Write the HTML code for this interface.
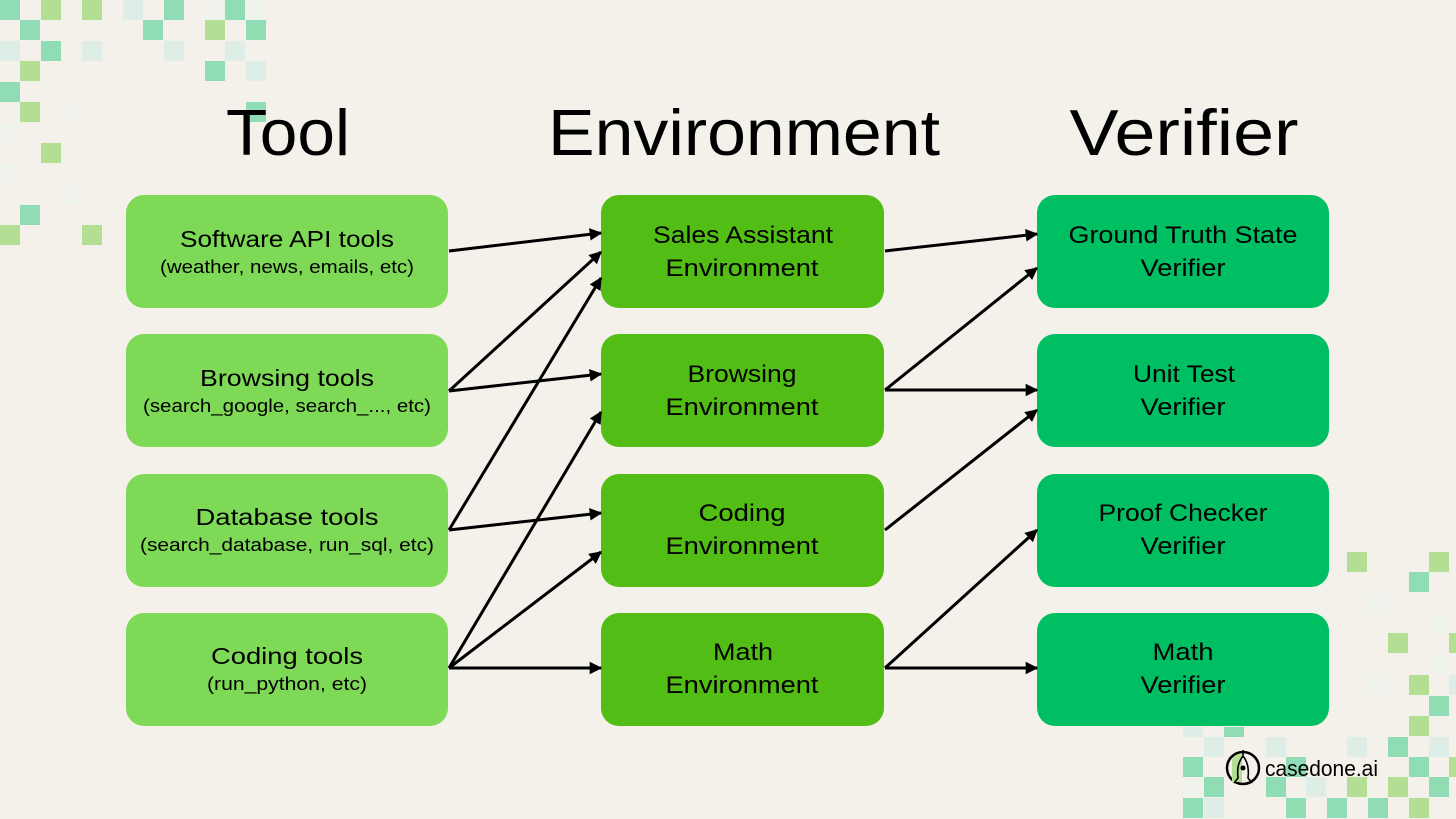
<!DOCTYPE html>
<html><head><meta charset="utf-8"><style>
html,body{margin:0;padding:0;background:#f4f1ea;}
svg{display:block;}
text{font-family:"Liberation Sans",sans-serif;fill:#000;}
</style></head><body>
<svg width="1456" height="819" viewBox="0 0 1456 819" xmlns="http://www.w3.org/2000/svg">
<defs>
<marker id="ah" viewBox="0 0 10 10" refX="9" refY="5" markerWidth="4.2" markerHeight="4.2" orient="auto" markerUnits="strokeWidth"><path d="M0,0 L10,5 L0,10 z" fill="#000"/></marker>
</defs>
<rect width="1456" height="819" fill="#f4f1ea"/>
<g>
<g fill="#8fdcb5">
<rect x="0" y="0" width="20" height="20"/><rect x="164" y="0" width="20" height="20"/><rect x="225" y="0" width="20" height="20"/>
<rect x="20" y="20" width="20" height="20"/><rect x="143" y="20" width="20" height="20"/><rect x="246" y="20" width="20" height="20"/>
<rect x="41" y="41" width="20" height="20"/><rect x="205" y="61" width="20" height="20"/>
<rect x="0" y="82" width="20" height="20"/><rect x="246" y="102" width="20" height="20"/><rect x="20" y="205" width="20" height="20"/>
</g>
<g fill="#b3df95">
<rect x="41" y="0" width="20" height="20"/><rect x="82" y="0" width="20" height="20"/><rect x="205" y="20" width="20" height="20"/>
<rect x="20" y="61" width="20" height="20"/><rect x="20" y="102" width="20" height="20"/><rect x="41" y="143" width="20" height="20"/>
<rect x="0" y="225" width="20" height="20"/><rect x="82" y="225" width="20" height="20"/>
</g>
<g fill="#deeee6">
<rect x="123" y="0" width="20" height="20"/><rect x="0" y="41" width="20" height="20"/><rect x="82" y="41" width="20" height="20"/>
<rect x="164" y="41" width="20" height="20"/><rect x="225" y="41" width="20" height="20"/><rect x="246" y="61" width="20" height="20"/>
</g>
<g fill="#eff3ec">
<rect x="205" y="0" width="20" height="20"/><rect x="246" y="0" width="20" height="20"/><rect x="61" y="102" width="20" height="20"/>
<rect x="0" y="123" width="20" height="20"/><rect x="0" y="164" width="20" height="20"/><rect x="61" y="184" width="20" height="20"/>
</g>
<g fill="#b3df95">
<rect x="1347" y="552" width="20" height="20"/><rect x="1429" y="552" width="20" height="20"/><rect x="1388" y="633" width="20" height="20"/>
<rect x="1449" y="633" width="20" height="20"/><rect x="1409" y="675" width="20" height="20"/><rect x="1409" y="716" width="20" height="20"/>
<rect x="1449" y="757" width="20" height="20"/><rect x="1347" y="777" width="20" height="20"/><rect x="1388" y="777" width="20" height="20"/>
<rect x="1409" y="798" width="20" height="20"/>
</g>
<g fill="#8fdcb5">
<rect x="1409" y="572" width="20" height="20"/><rect x="1429" y="696" width="20" height="20"/><rect x="1388" y="737" width="20" height="20"/>
<rect x="1224" y="727" width="20" height="10"/><rect x="1183" y="757" width="20" height="20"/><rect x="1286" y="757" width="20" height="20"/>
<rect x="1409" y="757" width="20" height="20"/><rect x="1204" y="777" width="20" height="20"/><rect x="1266" y="777" width="20" height="20"/>
<rect x="1429" y="777" width="20" height="20"/><rect x="1183" y="798" width="20" height="20"/><rect x="1286" y="798" width="20" height="20"/>
<rect x="1327" y="798" width="20" height="20"/><rect x="1368" y="798" width="20" height="20"/>
</g>
<g fill="#deeee6">
<rect x="1449" y="675" width="20" height="20"/><rect x="1183" y="727" width="20" height="10"/><rect x="1204" y="737" width="20" height="20"/>
<rect x="1266" y="737" width="20" height="20"/><rect x="1347" y="737" width="20" height="20"/><rect x="1429" y="737" width="20" height="20"/>
<rect x="1306" y="777" width="20" height="20"/><rect x="1204" y="798" width="20" height="20"/>
</g>
<g fill="#eff3ec">
<rect x="1368" y="593" width="20" height="20"/><rect x="1429" y="613" width="20" height="20"/><rect x="1429" y="655" width="20" height="20"/>
<rect x="1368" y="675" width="20" height="20"/><rect x="1183" y="777" width="20" height="20"/>
</g>
</g>

<text x="288" y="155" font-size="65" text-anchor="middle" textLength="124" lengthAdjust="spacingAndGlyphs">Tool</text>
<text x="744" y="155" font-size="65" text-anchor="middle" textLength="392" lengthAdjust="spacingAndGlyphs">Environment</text>
<text x="1184" y="155" font-size="65" text-anchor="middle" textLength="229" lengthAdjust="spacingAndGlyphs">Verifier</text>

<g fill="#7ed957">
<rect x="126" y="195" width="322" height="113" rx="18"/>
<rect x="126" y="334" width="322" height="113" rx="18"/>
<rect x="126" y="474" width="322" height="113" rx="18"/>
<rect x="126" y="613" width="322" height="113" rx="18"/>
</g>
<g fill="#52bd14">
<rect x="601" y="195" width="283" height="113" rx="18"/>
<rect x="601" y="334" width="283" height="113" rx="18"/>
<rect x="601" y="474" width="283" height="113" rx="18"/>
<rect x="601" y="613" width="283" height="113" rx="18"/>
</g>
<g fill="#00bf63">
<rect x="1037" y="195" width="292" height="113" rx="18"/>
<rect x="1037" y="334" width="292" height="113" rx="18"/>
<rect x="1037" y="474" width="292" height="113" rx="18"/>
<rect x="1037" y="613" width="292" height="113" rx="18"/>
</g>

<g font-size="23" text-anchor="middle">
<text x="287" y="247" textLength="214" lengthAdjust="spacingAndGlyphs">Software API tools</text>
<text x="287" y="386" textLength="174" lengthAdjust="spacingAndGlyphs">Browsing tools</text>
<text x="287" y="525" textLength="183" lengthAdjust="spacingAndGlyphs">Database tools</text>
<text x="287" y="664" textLength="152" lengthAdjust="spacingAndGlyphs">Coding tools</text>
</g>
<g font-size="18" text-anchor="middle">
<text x="287" y="273" textLength="254" lengthAdjust="spacingAndGlyphs">(weather, news, emails, etc)</text>
<text x="287" y="412" textLength="288" lengthAdjust="spacingAndGlyphs">(search_google, search_..., etc)</text>
<text x="287" y="551" textLength="294" lengthAdjust="spacingAndGlyphs">(search_database, run_sql, etc)</text>
<text x="287" y="690" textLength="160" lengthAdjust="spacingAndGlyphs">(run_python, etc)</text>
</g>

<g font-size="24" text-anchor="middle">
<text x="743" y="243" textLength="180" lengthAdjust="spacingAndGlyphs">Sales Assistant</text>
<text x="742" y="276" textLength="153" lengthAdjust="spacingAndGlyphs">Environment</text>
<text x="742" y="382" textLength="109" lengthAdjust="spacingAndGlyphs">Browsing</text>
<text x="742" y="415" textLength="153" lengthAdjust="spacingAndGlyphs">Environment</text>
<text x="742" y="521" textLength="87" lengthAdjust="spacingAndGlyphs">Coding</text>
<text x="742" y="554" textLength="153" lengthAdjust="spacingAndGlyphs">Environment</text>
<text x="743" y="660" textLength="60" lengthAdjust="spacingAndGlyphs">Math</text>
<text x="742" y="693" textLength="153" lengthAdjust="spacingAndGlyphs">Environment</text>

<text x="1183" y="243" textLength="229" lengthAdjust="spacingAndGlyphs">Ground Truth State</text>
<text x="1183" y="276" textLength="85" lengthAdjust="spacingAndGlyphs">Verifier</text>
<text x="1184" y="382" textLength="102" lengthAdjust="spacingAndGlyphs">Unit Test</text>
<text x="1183" y="415" textLength="85" lengthAdjust="spacingAndGlyphs">Verifier</text>
<text x="1183" y="521" textLength="169" lengthAdjust="spacingAndGlyphs">Proof Checker</text>
<text x="1183" y="554" textLength="85" lengthAdjust="spacingAndGlyphs">Verifier</text>
<text x="1183" y="660" textLength="61" lengthAdjust="spacingAndGlyphs">Math</text>
<text x="1183" y="693" textLength="85" lengthAdjust="spacingAndGlyphs">Verifier</text>
</g>

<g stroke="#000" stroke-width="3" fill="none" marker-end="url(#ah)">
<line x1="449" y1="251" x2="601" y2="233"/>
<line x1="449" y1="391" x2="601" y2="252"/>
<line x1="449" y1="391" x2="601" y2="374"/>
<line x1="449" y1="530" x2="601" y2="278"/>
<line x1="449" y1="530" x2="601" y2="513"/>
<line x1="449" y1="668" x2="601" y2="412"/>
<line x1="449" y1="668" x2="601" y2="552"/>
<line x1="449" y1="668" x2="601" y2="668"/>
<line x1="885" y1="251" x2="1037" y2="234"/>
<line x1="885" y1="390" x2="1037" y2="268"/>
<line x1="885" y1="390" x2="1037" y2="390"/>
<line x1="885" y1="530" x2="1037" y2="410"/>
<line x1="885" y1="668" x2="1037" y2="530"/>
<line x1="885" y1="668" x2="1037" y2="668"/>
</g>

<circle cx="1243" cy="768" r="16" fill="#f4f1ea" stroke="#000" stroke-width="2.5"/>
<path d="M1232,760 a10,10 0 0 1 10,-6 v28 h-10 z" fill="#b3df95"/>
<path d="M1243,756 c-5,6 -6,14 -5,22 l-4,5 M1243,756 c5,6 6,14 5,22 l4,5 M1243,756 v-6" stroke="#000" stroke-width="1.6" fill="none"/>
<circle cx="1243" cy="768" r="2.5" fill="#000"/>
<text x="1265" y="776" font-size="22" textLength="113" lengthAdjust="spacingAndGlyphs">casedone.ai</text>
</svg>
</body></html>
